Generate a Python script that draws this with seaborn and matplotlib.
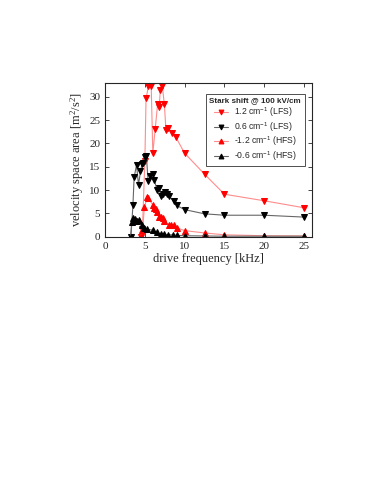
import numpy as np
import pandas as pd
import matplotlib.pyplot as plt
import seaborn as sns

sns.set_style('ticks')
plt.rcParams['mathtext.fontset'] = 'custom'
plt.rcParams['mathtext.default'] = 'regular'

# Data
f_lfs12 = [4.5, 4.7, 5.0, 5.15, 5.45, 5.8, 6.0, 6.3, 6.6, 6.8, 6.95, 7.2, 7.45, 7.65, 7.95, 8.4, 8.9, 10, 12.5, 15, 20, 25]
a_lfs12 = [0.0, 1.6, 16.3, 29.7, 32.2, 32.2, 17.9, 23.1, 28.4, 27.9, 31.5, 32.2, 28.4, 22.9, 23.4, 22.2, 21.3, 17.9, 13.4, 9.1, 7.7, 6.2]

f_lfs06 = [3.25, 3.5, 3.65, 3.95, 4.2, 4.45, 4.65, 4.8, 5.0, 5.2, 5.4, 5.7, 6.0, 6.2, 6.5, 6.8, 7.0, 7.25, 7.5, 7.75, 8.0, 8.6, 9.0, 10, 12.5, 15, 20, 25]
a_lfs06 = [0.0, 6.8, 12.7, 15.4, 11.1, 14.0, 15.6, 15.9, 17.0, 17.2, 12.0, 13.1, 13.4, 12.2, 10.0, 10.4, 8.7, 9.2, 9.5, 9.2, 8.7, 7.7, 6.7, 5.8, 4.9, 4.6, 4.6, 4.2]

f_hfs12 = [4.5, 4.7, 4.95, 5.3, 5.45, 6.0, 6.15, 6.35, 6.55, 6.8, 7.0, 7.25, 7.45, 8.0, 8.3, 8.6, 9.0, 10, 12.5, 15, 20, 25]
a_hfs12 = [0.0, 1.4, 6.4, 8.4, 8.2, 6.8, 6.2, 5.9, 5.3, 4.3, 4.3, 4.1, 3.4, 2.6, 2.6, 2.5, 1.9, 1.3, 0.8, 0.4, 0.2, 0.15]

f_hfs06 = [3.2, 3.35, 3.55, 3.75, 3.95, 4.25, 4.65, 4.9, 5.25, 6.0, 6.5, 7.0, 7.45, 7.95, 8.5, 9.0, 10, 12.5, 15, 20, 25]
a_hfs06 = [0.0, 3.1, 3.9, 3.7, 3.4, 3.6, 2.4, 1.9, 1.6, 1.4, 0.9, 0.5, 0.5, 0.4, 0.4, 0.3, 0.2, 0.15, 0.1, 0.1, 0.1]

series = [
    (f_lfs12, a_lfs12, '1.2 cm$^{-1}$ (LFS)', 'v', 'red', '#ff8c8c'),
    (f_lfs06, a_lfs06, '0.6 cm$^{-1}$ (LFS)', 'v', 'black', '#666666'),
    (f_hfs12, a_hfs12, '-1.2 cm$^{-1}$ (HFS)', '^', 'red', '#ff8c8c'),
    (f_hfs06, a_hfs06, '-0.6 cm$^{-1}$ (HFS)', '^', 'black', '#666666'),
]

fig = plt.figure(figsize=(3.74, 4.84), dpi=100)
ax = fig.add_axes([0.281, 0.511, 0.553, 0.318])

for f, a, label, m, c, lc in series:
    df = pd.DataFrame({'f': f, 'a': a})
    sns.lineplot(data=df, x='f', y='a', ax=ax, estimator=None, sort=False,
                 color=lc, lw=0.8, marker=m, markersize=5,
                 markerfacecolor=c, markeredgecolor=c, label=label)

ax.set_xlim(0, 26)
ax.set_ylim(0, 33)
ax.set_xticks([0, 5, 10, 15, 20, 25])
ax.set_yticks([0, 5, 10, 15, 20, 25, 30])
ax.tick_params(direction='in', top=True, right=True, length=3, width=0.6, labelsize=8)
for lab in ax.get_xticklabels() + ax.get_yticklabels():
    lab.set_family('Liberation Serif')
for s in ax.spines.values():
    s.set_linewidth(0.8)

ax.set_xlabel('drive frequency [kHz]', family='Liberation Serif', fontsize=9, labelpad=2)
ax.set_ylabel('velocity space area [m$^2$/s$^2$]', family='Liberation Serif', fontsize=9, labelpad=2)

leg = ax.legend(title='Stark shift @ 100 kV/cm', loc='upper right', fancybox=False,
                frameon=True, edgecolor='black', fontsize=6.2, title_fontsize=5.8,
                handlelength=1.6, handletextpad=0.7, borderpad=0.4, labelspacing=0.1,
                markerscale=0.7, bbox_to_anchor=(0.985, 0.955))
leg.get_frame().set_linewidth(0.6)
for t in leg.get_texts():
    t.set_family('Liberation Sans')
leg.get_title().set_family('Liberation Sans')
leg.get_title().set_weight('bold')

plt.savefig('out.png', dpi=100)
plt.close()
